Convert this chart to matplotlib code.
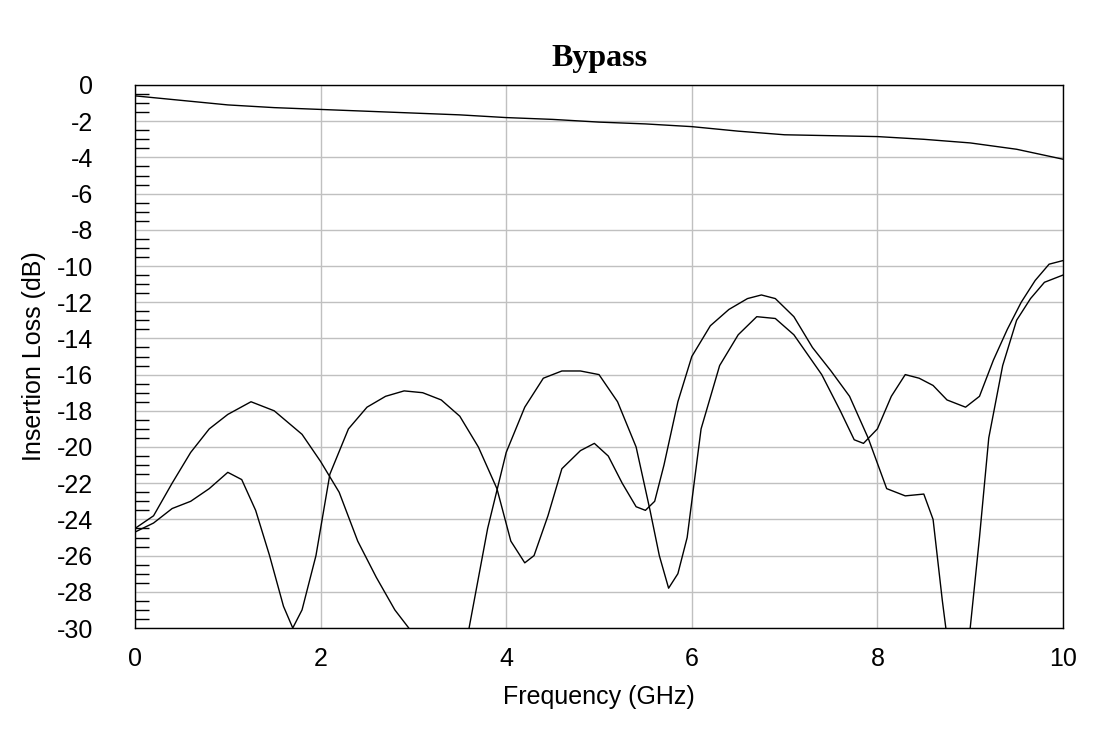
import matplotlib
matplotlib.use("Agg")
import matplotlib.pyplot as plt
from matplotlib.ticker import MultipleLocator

plt.rcParams["font.family"] = "Liberation Sans"
plt.rcParams["axes.unicode_minus"] = False

top_f = [0, 0.5, 1, 1.5, 2, 2.5, 3, 3.5, 4, 4.5, 5, 5.5, 6, 6.5, 7, 7.5, 8, 8.5, 9, 9.5, 10]
top_v = [-0.6, -0.85, -1.1, -1.25, -1.35, -1.45, -1.55, -1.65, -1.8, -1.9, -2.05, -2.15, -2.3, -2.55, -2.75, -2.8, -2.85, -3.0, -3.2, -3.55, -4.1]

a_f = [0, 0.2, 0.4, 0.6, 0.8, 1.0, 1.25, 1.5, 1.8, 2.0, 2.2, 2.4, 2.6, 2.8, 2.95, 3.1, 3.5, 3.6, 3.8, 4.0, 4.2, 4.4, 4.6, 4.8, 5.0, 5.2, 5.4, 5.55, 5.65, 5.75, 5.85, 5.95, 6.1, 6.3, 6.5, 6.7, 6.9, 7.1, 7.4, 7.6, 7.75, 7.85, 8.0, 8.15, 8.3, 8.45, 8.6, 8.75, 8.95, 9.1, 9.25, 9.4, 9.55, 9.7, 9.85, 10.0]
a_v = [-24.5, -23.8, -22.0, -20.3, -19.0, -18.2, -17.5, -18.0, -19.3, -20.8, -22.5, -25.2, -27.2, -29.0, -30.0, -32, -32, -30.0, -24.5, -20.3, -17.8, -16.2, -15.8, -15.8, -16.0, -17.5, -20.0, -23.5, -26.0, -27.8, -27.0, -25.0, -19.0, -15.5, -13.8, -12.8, -12.9, -13.8, -16.0, -18.0, -19.6, -19.8, -19.0, -17.2, -16.0, -16.2, -16.6, -17.4, -17.8, -17.2, -15.2, -13.5, -12.0, -10.8, -9.9, -9.7]

b_f = [0, 0.2, 0.4, 0.6, 0.8, 1.0, 1.15, 1.3, 1.45, 1.6, 1.7, 1.8, 1.95, 2.1, 2.3, 2.5, 2.7, 2.9, 3.1, 3.3, 3.5, 3.7, 3.9, 4.05, 4.2, 4.3, 4.45, 4.6, 4.8, 4.95, 5.1, 5.25, 5.4, 5.5, 5.6, 5.7, 5.85, 6.0, 6.2, 6.4, 6.6, 6.75, 6.9, 7.1, 7.3, 7.5, 7.7, 7.9, 8.1, 8.3, 8.5, 8.6, 8.7, 8.75, 8.8, 8.95, 9.0, 9.1, 9.2, 9.35, 9.5, 9.65, 9.8, 10.0]
b_v = [-24.7, -24.2, -23.4, -23.0, -22.3, -21.4, -21.8, -23.5, -26.0, -28.8, -30.0, -29.0, -26.0, -21.5, -19.0, -17.8, -17.2, -16.9, -17.0, -17.4, -18.3, -20.0, -22.3, -25.2, -26.4, -26.0, -23.8, -21.2, -20.2, -19.8, -20.5, -22.0, -23.3, -23.5, -23.0, -21.0, -17.5, -15.0, -13.3, -12.4, -11.8, -11.6, -11.8, -12.8, -14.5, -15.8, -17.2, -19.5, -22.3, -22.7, -22.6, -24.0, -28.5, -30.5, -32, -32, -30.0, -25.0, -19.5, -15.5, -13.0, -11.8, -10.9, -10.5]

fig = plt.figure(figsize=(10.99, 7.48), dpi=100)
ax = fig.add_axes([135/1099, 1-628/748, (1063-135)/1099, (628-85)/748])
for f, v in [(top_f, top_v), (a_f, a_v), (b_f, b_v)]:
    ax.plot(f, v, color="black", lw=1.0)

ax.set_xlim(0, 10)
ax.set_ylim(-30, 0)
ax.xaxis.set_major_locator(MultipleLocator(2))
ax.yaxis.set_major_locator(MultipleLocator(2))
ax.yaxis.set_minor_locator(MultipleLocator(0.5))
ax.grid(True, which="major", color="#c0c0c0", lw=1)
ax.tick_params(axis="y", which="major", length=0, labelsize=18, pad=30)
for lbl in ax.get_yticklabels():
    lbl.set_horizontalalignment("right")
ax.tick_params(axis="y", which="minor", direction="in", length=10, width=1)
ax.tick_params(axis="x", which="major", length=0, labelsize=18, pad=14)
for s in ax.spines.values():
    s.set_linewidth(1)
ax.set_xlabel("Frequency (GHz)", fontsize=18, labelpad=10)
ax.set_ylabel("Insertion Loss (dB)", fontsize=18, labelpad=8)
ax.set_title("Bypass", fontsize=23, fontweight="bold", family="Liberation Serif", pad=14)
fig.savefig("out.png", dpi=100)
